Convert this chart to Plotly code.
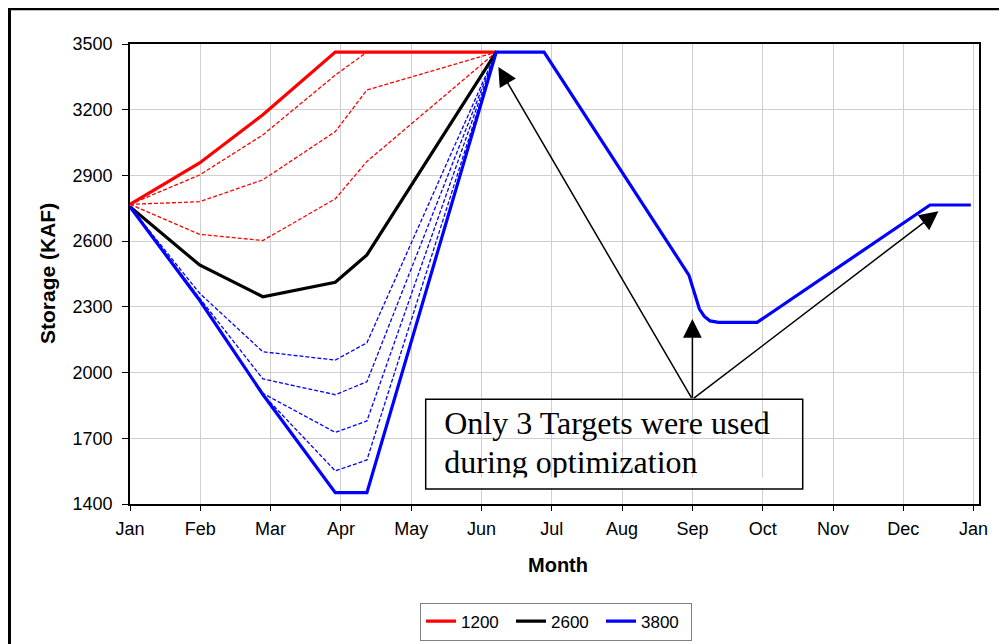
import plotly.graph_objects as go

# ---------------- data ----------------
month_labels = ["Jan", "Feb", "Mar", "Apr", "May", "Jun", "Jul",
                "Aug", "Sep", "Oct", "Nov", "Dec", "Jan"]
month_ticks = list(range(13))

# breakpoints (months after Jan 1) of the Jan-Jun refill curves
x_fill = [0, 0.99, 1.89, 2.92, 3.37, 5.21]

red_1200 = [2768, 2957, 3177, 3463, 3463, 3463]
red_dash_a = [2768, 2902, 3085, 3358, 3463, 3463]
red_dash_b = [2768, 2780, 2880, 3100, 3290, 3463]
red_dash_c = [2768, 2631, 2603, 2793, 2964, 3463]

black_2600 = [2757, 2491, 2346, 2412, 2537, 3463]

blue_dash_a = [2757, 2362, 2095, 2057, 2136, 3463]
blue_dash_b = [2757, 2340, 1971, 1899, 1958, 3463]
blue_dash_c = [2757, 2333, 1905, 1727, 1779, 3463]
blue_dash_d = [2757, 2331, 1900, 1551, 1601, 3463]

x_blue = [0, 0.99, 1.89, 2.92, 3.37, 5.21, 5.89, 7.95, 8.10, 8.17, 8.25, 8.37, 8.92, 11.38, 11.96]
blue_3800 = [2757, 2330, 1900, 1452, 1452, 3463, 3463, 2445, 2290, 2256, 2236, 2229, 2229, 2765, 2765]

note_lines = ["Only 3 Targets were used", "during optimization"]
note_x = 4.47
note_y = [1754, 1580]

arrow_tail = (8.0, 1878)
arrow_heads = [(5.24, 3395), (8.0, 2245), (11.5, 2736)]

# ---------------- figure ----------------
RED, BLACK, BLUE = "#FF0000", "#000000", "#0000FF"
fig = go.Figure()

for ys in [red_dash_a, red_dash_b, red_dash_c]:
    fig.add_trace(go.Scatter(x=x_fill, y=ys, mode="lines", showlegend=False, hoverinfo="skip",
                             line=dict(color=RED, width=1.3, dash="4px,2px")))
for ys in [blue_dash_a, blue_dash_b, blue_dash_c, blue_dash_d]:
    fig.add_trace(go.Scatter(x=x_fill, y=ys, mode="lines", showlegend=False, hoverinfo="skip",
                             line=dict(color=BLUE, width=1.3, dash="4px,2px")))

fig.add_trace(go.Scatter(x=x_fill, y=red_1200, mode="lines", name="1200",
                         line=dict(color=RED, width=3.2)))
fig.add_trace(go.Scatter(x=x_fill, y=black_2600, mode="lines", name="2600",
                         line=dict(color=BLACK, width=3.2)))
fig.add_trace(go.Scatter(x=x_blue, y=blue_3800, mode="lines", name="3800",
                         line=dict(color=BLUE, width=3.2)))

# note text (as a trace so that the bottom strip can be masked like the original)
for txt, yy in zip(note_lines, note_y):
    fig.add_trace(go.Scatter(x=[note_x], y=[yy], mode="text", text=[txt], showlegend=False,
                             textposition="middle right", hoverinfo="skip",
                             marker=dict(size=1),
                             textfont=dict(family="Liberation Serif, Times New Roman, serif",
                                           size=32, color="black")))

# page layout (page pixel coordinates; the html body adds an 8px offset)
OFF = 8
PL, PR, PT, PB = 130, 979, 44, 504          # plot area on the page
W, H = 1007 - OFF, 644 - OFF
L, T = PL - OFF, PT - OFF
R = W - (PR - OFF)
B = H - (PB - OFF)
pw, ph = PR - PL, PB - PT


def px(xp):
    return (xp - PL) / pw


def py(yp):
    return (PB - yp) / ph


shapes = [
    # note box fill (between grid and traces)
    dict(type="rect", xref="paper", yref="paper", x0=px(425.7), x1=px(802.7), y0=py(489), y1=py(399.3),
         fillcolor="white", line=dict(width=0), layer="between"),
    # mask strip that clips the descenders of the 2nd line
    dict(type="rect", xref="paper", yref="paper", x0=px(427), x1=px(801.5), y0=py(488), y1=py(477.5),
         fillcolor="white", line=dict(width=0), layer="above"),
    # note box border
    dict(type="rect", xref="paper", yref="paper", x0=px(425.7), x1=px(802.7), y0=py(489), y1=py(399.3),
         fillcolor="rgba(0,0,0,0)", line=dict(color="black", width=1.5), layer="above"),
    # outer chart frame (top and left edges visible)
    dict(type="line", xref="paper", yref="paper", x0=px(9), x1=px(1012), y0=py(9), y1=py(9),
         line=dict(color="black", width=2.5)),
    dict(type="line", xref="paper", yref="paper", x0=px(9.5), x1=px(9.5), y0=py(8), y1=py(660),
         line=dict(color="black", width=3)),
]

annotations = []
for hx, hy in arrow_heads:
    annotations.append(dict(x=hx, y=hy, xref="x", yref="y", ax=arrow_tail[0], ay=arrow_tail[1],
                            axref="x", ayref="y", text="", showarrow=True, arrowhead=2,
                            arrowsize=2.5, arrowwidth=1.5, arrowcolor="black", standoff=0))
annotations.append(dict(x=px(47), y=py(274), xref="paper", yref="paper", text="<b>Storage (KAF)</b>",
                        textangle=-90, showarrow=False, xanchor="center", yanchor="middle",
                        font=dict(family="Liberation Sans, Arial, sans-serif", size=21, color="black")))
annotations.append(dict(x=px(558), y=py(565), xref="paper", yref="paper", text="<b>Month</b>",
                        showarrow=False, xanchor="center", yanchor="middle",
                        font=dict(family="Liberation Sans, Arial, sans-serif", size=20, color="black")))

fig.update_layout(
    width=W, height=H, autosize=False,
    margin=dict(l=L, r=R, t=T, b=B, pad=0, autoexpand=False),
    paper_bgcolor="white", plot_bgcolor="white",
    font=dict(family="Liberation Sans, Arial, sans-serif", size=18, color="black"),
    shapes=shapes, annotations=annotations,
    legend=dict(orientation="h", x=px(556), y=py(621.5), xanchor="center", yanchor="middle",
                bordercolor="#808080", borderwidth=1, bgcolor="white",
                font=dict(size=17), itemwidth=30, entrywidth=45, entrywidthmode="pixels"),
    showlegend=True,
)

fig.update_xaxes(range=[0, pw / 70.3], tickmode="array", tickvals=month_ticks, ticktext=month_labels,
                 showgrid=True, gridcolor="#cfcfcf", gridwidth=1, zeroline=False,
                 showline=True, linecolor="black", linewidth=1.6, mirror=True,
                 ticks="outside", ticklen=5, tickcolor="black", tickwidth=1,
                 ticklabelstandoff=3, tickfont=dict(size=18))
fig.update_yaxes(range=[1400, 3500], tickmode="linear", tick0=1400, dtick=300,
                 showgrid=True, gridcolor="#cfcfcf", gridwidth=1, zeroline=False,
                 showline=True, linecolor="black", linewidth=1.6, mirror=True,
                 ticks="outside", ticklen=6, tickcolor="black", tickwidth=1,
                 ticklabelstandoff=6, tickfont=dict(size=18))

fig.write_html("out.html")
